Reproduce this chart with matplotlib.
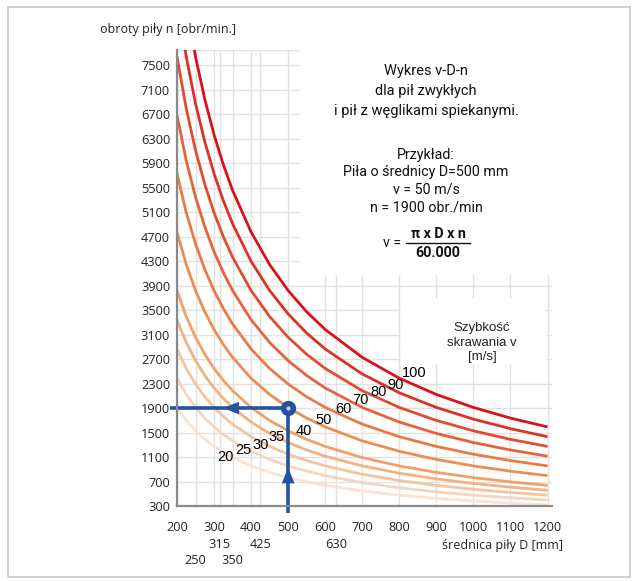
import matplotlib
matplotlib.use("Agg")
import matplotlib.pyplot as plt
from matplotlib import font_manager, transforms
from matplotlib.patches import Rectangle

# ---------------- data ----------------
diameters = [200, 225, 250, 275, 300, 325, 350, 400, 450, 500, 550, 600,
             700, 800, 900, 1000, 1100, 1200]
speeds = [20, 25, 30, 35, 40, 50, 60, 70, 80, 90, 100]

n_v20 = [1910, 1698, 1528, 1389, 1273, 1175, 1091, 955, 849, 764, 695, 637, 546, 477, 424, 382, 347, 318]
n_v25 = [2387, 2122, 1910, 1736, 1592, 1469, 1364, 1194, 1061, 955, 868, 796, 682, 597, 531, 477, 434, 398]
n_v30 = [2865, 2546, 2292, 2083, 1910, 1763, 1637, 1432, 1273, 1146, 1042, 955, 819, 716, 637, 573, 521, 477]
n_v35 = [3342, 2971, 2674, 2431, 2228, 2057, 1910, 1671, 1485, 1337, 1215, 1114, 955, 836, 743, 668, 608, 557]
n_v40 = [3820, 3395, 3056, 2778, 2546, 2351, 2183, 1910, 1698, 1528, 1389, 1273, 1091, 955, 849, 764, 694, 637]
n_v50 = [4775, 4244, 3820, 3472, 3183, 2938, 2728, 2387, 2122, 1910, 1736, 1592, 1364, 1194, 1061, 955, 868, 796]
n_v60 = [5730, 5093, 4584, 4167, 3820, 3526, 3274, 2865, 2546, 2292, 2084, 1910, 1637, 1432, 1273, 1146, 1042, 955]
n_v70 = [6685, 5942, 5348, 4861, 4456, 4114, 3820, 3342, 2971, 2674, 2431, 2228, 1910, 1671, 1485, 1337, 1215, 1114]
n_v80 = [7639, 6791, 6112, 5556, 5093, 4701, 4365, 3820, 3395, 3056, 2778, 2546, 2183, 1910, 1698, 1528, 1389, 1273]
n_v90 = [8594, 7639, 6875, 6250, 5730, 5289, 4911, 4297, 3820, 3438, 3125, 2865, 2456, 2149, 1910, 1719, 1563, 1432]
n_v100 = [9549, 8488, 7639, 6945, 6366, 5877, 5457, 4775, 4244, 3820, 3472, 3183, 2728, 2387, 2122, 1910, 1736, 1592]

series = [n_v20, n_v25, n_v30, n_v35, n_v40, n_v50, n_v60, n_v70, n_v80, n_v90, n_v100]
speed_labels = ["20", "25", "30", "35", "40", "50", "60", "70", "80", "90", "100"]

x_ticks_main = [200, 300, 400, 500, 600, 700, 800, 900, 1000, 1100, 1200]
x_ticks_row2 = [315, 425, 630]
x_ticks_row3 = [250, 350]
y_ticks = list(range(300, 7501, 400))

example_D = 500
example_n = 1900

# ---------------- styles ----------------
colors = ["#f8e4d6", "#f6d4bd", "#f4c39f", "#f2b283", "#f0a068",
          "#ec8d52", "#e97a44", "#e6633a", "#e34b30", "#df3026", "#dc0f1c"]
label_pos = [(330, 1100), (378, 1214), (427, 1296), (470, 1427), (541, 1525),
             (595, 1704), (649, 1884), (695, 2030), (743, 2162), (789, 2276), (840, 2472)]
blue = "#2452a0"
grid_c = "#e2e2e2"

names = {f.name for f in font_manager.fontManager.ttflist}
base_font = "Open Sans" if "Open Sans" in names else "DejaVu Sans"
narrow_font = "Liberation Sans Narrow" if "Liberation Sans Narrow" in names else "Roboto"
arial = "Liberation Sans" if "Liberation Sans" in names else "DejaVu Sans"
plt.rcParams["font.family"] = [base_font, "DejaVu Sans"]

W, H = 638, 581
fig = plt.figure(figsize=(W / 100, H / 100), dpi=100)
ax = fig.add_axes([177 / W, 1 - 506 / H, (552 - 177) / W, (506 - 50) / H])
ax.set_xlim(200, 1212)
ax.set_ylim(300, 7750)

# grid
for xv in x_ticks_main + x_ticks_row2 + x_ticks_row3:
    ax.axvline(xv, color=grid_c, lw=1.0, zorder=0)
for yv in y_ticks[1:] + [7750]:
    ax.axhline(yv, color=grid_c, lw=1.0, zorder=0)

# white boxes covering the grid (text areas)
ax.add_patch(Rectangle((532, 4072), 1212 - 532, 7760 - 4072, facecolor="white",
                       edgecolor="none", zorder=1))
ax.add_patch(Rectangle((805, 2620), 1195 - 805, 3680 - 2620, facecolor="white",
                       edgecolor="none", zorder=1))

# curves
for n_vals, c in zip(series, colors):
    ax.plot(diameters, n_vals, color=c, lw=2.0, zorder=2, solid_capstyle="butt")

for (lx, ly), lab in zip(label_pos, speed_labels):
    ax.text(lx, ly, lab, fontsize=10.5, family=[arial], ha="center", va="center", zorder=5)

# example arrows
ax.plot([181, example_D], [example_n, example_n], color=blue, lw=2.6, zorder=6,
        clip_on=False, solid_capstyle="butt")
ax.plot([example_D, example_D], [180, example_n], color=blue, lw=2.6, zorder=6,
        clip_on=False, solid_capstyle="butt")
ax.annotate("", xy=(318, example_n), xytext=(372, example_n),
            arrowprops=dict(arrowstyle="-|>,head_length=1.1,head_width=0.45",
                            color=blue, lw=0.1), zorder=7)
ax.annotate("", xy=(example_D, 970), xytext=(example_D, 500),
            arrowprops=dict(arrowstyle="-|>,head_length=1.1,head_width=0.45",
                            color=blue, lw=0.1), zorder=7)
ax.plot([example_D], [example_n], "o", ms=10, mfc=blue, mec=blue, zorder=8)
ax.plot([example_D], [example_n], "o", ms=3, mfc="#c9d3e8", mec="none", zorder=9)

# axes styling
for s in ["top", "right"]:
    ax.spines[s].set_visible(False)
for s in ["left", "bottom"]:
    ax.spines[s].set_color("#8a8a8a")
    ax.spines[s].set_linewidth(1.6)
    ax.spines[s].set_zorder(10)
ax.set_yticks(y_ticks)
ax.set_yticklabels([str(v) for v in y_ticks])
ax.set_xticks(x_ticks_main)
ax.set_xticklabels([str(v) for v in x_ticks_main])
ax.tick_params(axis="both", length=0, labelsize=9.2, colors="#222222")
ax.tick_params(axis="y", pad=5)
ax.tick_params(axis="x", pad=11)

bt = transforms.blended_transform_factory(ax.transData, fig.transFigure)
for xv in x_ticks_row2:
    ax.text(xv, 1 - 544 / H, str(xv), transform=bt, fontsize=9.2, ha="center",
            va="center", color="#222222")
for xv in x_ticks_row3:
    ax.text(xv, 1 - 560 / H, str(xv), transform=bt, fontsize=9.2, ha="center",
            va="center", color="#222222")

fig.text(563 / W, 1 - 545 / H, "średnica piły D [mm]", fontsize=9, ha="right",
         va="center", color="#222222")
fig.text(168 / W, 1 - 29 / H, "obroty piły n [obr/min.]", fontsize=9, ha="center",
         va="center", color="#222222")

# info text block
cx = 426 / W
for txt, yy in [("Wykres v-D-n", 71), ("dla pił zwykłych", 91),
                ("i pił z węglikami spiekanymi.", 111)]:
    fig.text(cx, 1 - yy / H, txt, fontsize=10.5, ha="center", va="center",
             family=[narrow_font, "DejaVu Sans"], color="#111111")
for txt, yy in [("Przykład:", 155), ("Piła o średnicy D=500 mm", 172),
                ("v = 50 m/s", 189), ("n = 1900 obr./min", 207)]:
    fig.text(cx, 1 - yy / H, txt, fontsize=10.3, ha="center", va="center",
             family=[narrow_font, "DejaVu Sans"], color="#111111")
fig.text(392 / W, 1 - 243 / H, "v =", fontsize=10.3, ha="center", va="center",
         family=[narrow_font, "DejaVu Sans"], color="#111111")
fig.text(438 / W, 1 - 234 / H, "π x D x n", fontsize=10.3, ha="center", va="center",
         family=[narrow_font, "DejaVu Sans"], weight="bold", color="#111111")
fig.text(438 / W, 1 - 253 / H, "60.000", fontsize=10.3, ha="center", va="center",
         family=[narrow_font, "DejaVu Sans"], weight="bold", color="#111111")
fig.add_artist(plt.Line2D([406 / W, 470 / W], [1 - 243 / H, 1 - 243 / H],
                          color="#111111", lw=1.0))

for txt, yy in [("Szybkość", 328), ("skrawania v", 343), ("[m/s]", 357)]:
    fig.text(482 / W, 1 - yy / H, txt, fontsize=9.5, ha="center", va="center",
             family=[arial], color="#222222")

# outer frame
fig.add_artist(Rectangle((8 / W, 1 - 577 / H), (630 - 8) / W, (577 - 7) / H,
                         transform=fig.transFigure, fill=False,
                         edgecolor="#c8c8c8", lw=1.2))

fig.savefig("out.png", dpi=100)
